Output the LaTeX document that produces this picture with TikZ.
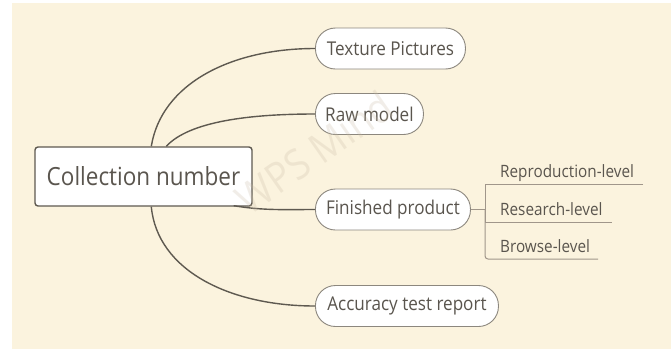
\documentclass[tikz,border=0pt]{standalone}
\usepackage{fontspec}
\setmainfont[FakeStretch=0.9]{Open Sans}
\definecolor{bg}{HTML}{FBF3DE}
\definecolor{txt}{HTML}{5A554E}
\definecolor{link}{HTML}{5E5950}
\definecolor{pillborder}{HTML}{8C877E}
\definecolor{sub}{HTML}{A0968A}
\definecolor{wm}{HTML}{C8BBA5}
\tikzset{
  pill/.style={rectangle, rounded corners=20pt, draw=pillborder, line width=0.9pt, fill=white,
    minimum height=41pt, inner xsep=0pt, anchor=west, text=txt, font=\fontsize{19}{22}\selectfont},
  rootbox/.style={rectangle, rounded corners=3pt, draw=link, line width=1.4pt, fill=white,
    minimum width=217pt, minimum height=59pt, text=txt, font=\fontsize{25}{28}\selectfont},
  link/.style={draw=link, line width=1.4pt},
  sublabel/.style={anchor=base west, text=txt, inner sep=0pt, font=\fontsize{17}{20}\selectfont},
  subline/.style={draw=sub, line width=1pt},
}
\begin{document}
\begin{tikzpicture}[x=1pt,y=-1pt]
\useasboundingbox (0,0) rectangle (671,349);
\fill[white] (0,0) rectangle (671,349);
\fill[bg] (12,3) rectangle (671,349);

% root
\node[rootbox] (root) at (143.5,176.5) {Collection number};

% branches
\node[pill, minimum width=150pt] (tex) at (315,48.5) {Texture Pictures};
\node[pill, minimum width=108pt] (raw) at (315,114) {Raw model};
\node[pill, minimum width=155pt] (fin) at (315,209.5) {Finished product};
\node[pill, minimum width=183pt] (acc) at (315,306) {Accuracy test report};

% connectors
\draw[link] ([xshift=117pt]root.north west) .. controls +(10,-62) and +(-85,0) .. (tex.west);
\draw[link] ([xshift=132pt]root.north west) .. controls +(23,-25) and +(-65,0) .. (raw.west);
\draw[link] ([xshift=-19pt,yshift=1pt]root.south east) .. controls +(30,5) and +(-30,0) .. (fin.west);
\draw[link] ([xshift=117pt]root.south west) .. controls +(6,64) and +(-85,0) .. (acc.west);

% sub-branches
\coordinate (fork) at (485,209.5);
\node[sublabel] (rep) at (500,177) {Reproduction-level};
\node[sublabel] (res) at (500,215) {Research-level};
\node[sublabel] (bro) at (500,252) {Browse-level};
\coordinate (repend) at (643,184);
\coordinate (resend) at (612,222);
\coordinate (broend) at (598,259);
\coordinate (top) at (485,184);
\draw[subline] (fin.east) -- (fork);
\draw[subline] (repend) -- (top) -- (fork);
\draw[subline] (fork) -- (485,222) -- (resend);
\draw[subline, rounded corners=3pt] (fork) |- (broend);

% watermark (drawn faintly over everything)
\node[text=wm, text opacity=0.25, rotate=35, font=\fontsize{42}{46}\selectfont] (wm) at (314,152) {WPS Mind};
\end{tikzpicture}
\end{document}
